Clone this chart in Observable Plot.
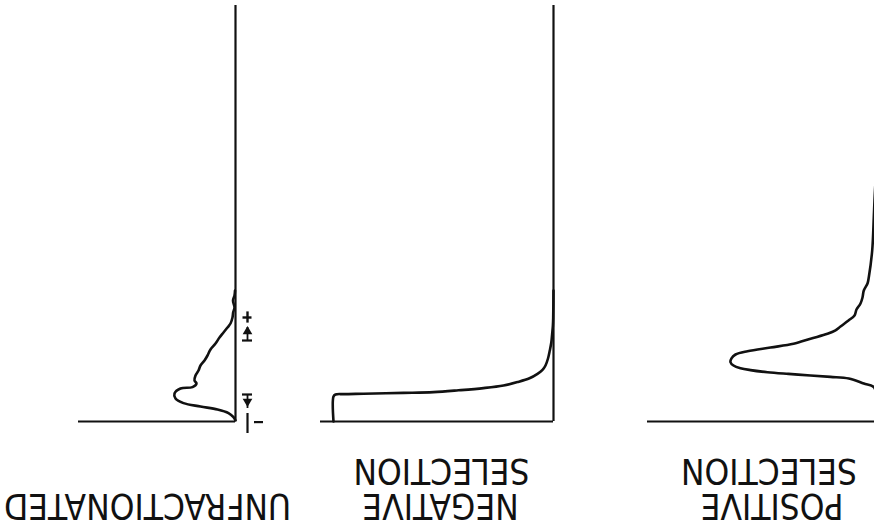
<!DOCTYPE html>
<html><head><meta charset="utf-8">
<script src="https://cdn.jsdelivr.net/npm/d3@7"></script>
<script src="https://cdn.jsdelivr.net/npm/@observablehq/plot@0.6"></script>
<style>
html,body{margin:0;padding:0;background:#fff;}
#chart{position:relative;width:874px;height:529px;overflow:hidden;background:#fff;}
#chart svg{position:absolute;left:0;top:0;max-width:none;background:transparent;overflow:visible;}
</style></head><body><div id="chart"></div>
<script>
// Panel titles (drawn upside down, as in the reference)
const unfLabel = ["UNFRACTIONATED"];
const negLabel = ["SELECTION", "NEGATIVE"];
const posLabel = ["SELECTION", "POSITIVE"];

// Unfractionated: channel (fluorescence) vs cell count
const unfChannel = [0.5, 2.2, 4.2, 6, 7.5, 9.2, 11.5, 14, 16.5, 17.2, 19, 20.5, 23, 25.5, 28, 30.5, 33, 36, 39, 42, 44.5, 47, 49, 52, 54.6, 57, 60.5, 63, 65.5];
const unfCount   = [0, 2, 7, 18, 35, 52, 60, 61, 55, 43, 39, 41, 40, 37, 35, 31, 28, 25, 20, 16, 12, 8, 5, 3, 2.3, 1, 2.5, 1, 0.5];

// Negative selection
const negChannel = [0, 12.5, 13.5, 13.7, 13.9, 14.3, 14.7, 15.6, 16.7, 18.0, 19.7, 21.6, 23.8, 25.8, 28, 31.5, 35.5, 39.5, 44, 48, 52, 65.5];
const negCount   = [220, 220, 218, 210, 190, 150, 120, 95, 70, 50, 36, 24, 16, 11, 8, 5.5, 3.7, 2.2, 1.3, 0.6, 0.3, 0];

// Positive selection
const posChannel = [0, 5, 11, 17.2, 19, 21.5, 22.3, 23, 23.8, 24.65, 25.7, 26.65, 28, 29.65, 31.6, 33.5, 35.15, 37, 38.85, 41.4, 43.85, 45.6, 47.5, 50.5, 53, 56, 59, 62, 65.5, 69, 72.15, 85.5, 102, 110.5, 130, 160];
const posCount   = [0, 1, 3, 6.7, 16.7, 31.7, 50, 70, 92, 113, 130, 140, 147, 150, 149, 145, 133, 110, 87, 70, 53, 45, 40, 32, 26, 24, 20, 18, 16.7, 13, 11.7, 8.3, 6.7, 6, 4, 2];

const INK = "#111";
const FONT = "'Liberation Sans Narrow', 'Arial Narrow', 'DejaVu Sans Condensed', sans-serif";

function panel({count, channel, labels, left, right, width, labelDx, extra = []}) {
  const data = count.map((c, i) => ({count: c, channel: channel[i]}));
  const dys = labels.length === 1 ? [84] : [48.5, 84];
  return Plot.plot({
    width, height: 529,
    marginLeft: left, marginRight: width - right, marginTop: 5, marginBottom: 108,
    x: {domain: [0, right - left], reverse: true, axis: null},
    y: {domain: [0, 208], axis: null},
    style: {background: "transparent"},
    marks: [
      Plot.ruleY([0], {stroke: INK, strokeWidth: 2.2}),
      Plot.ruleX([0], {stroke: INK, strokeWidth: 2.2}),
      Plot.line(data, {x: "count", y: "channel", stroke: INK, strokeWidth: 2.6, curve: "catmull-rom"}),
      ...extra,
      ...labels.map((t, i) => Plot.text([t], {
        text: d => d, frameAnchor: "bottom", dx: labelDx[i], dy: dys[i],
        rotate: 180, fontSize: 35, fontFamily: FONT, fill: INK, lineAnchor: "middle", textAnchor: "middle"
      }))
    ]
  });
}

// gate markers beside the unfractionated histogram
const gateMarks = [
  Plot.ruleY([52], {x1: -7.5, x2: -16.5, stroke: INK, strokeWidth: 2.4}),
  Plot.ruleX([-12], {y1: 49.2, y2: 54.8, stroke: INK, strokeWidth: 2.4}),
  Plot.ruleX([-12], {y1: 40.5, y2: 47, stroke: INK, strokeWidth: 1.8}),
  Plot.ruleY([40.5], {x1: -7, x2: -17, stroke: INK, strokeWidth: 2.2}),
  Plot.dot([0], {x: -12, y: 45, symbol: "triangle", r: 3.6, fill: INK}),
  Plot.ruleY([13.5], {x1: -7, x2: -17, stroke: INK, strokeWidth: 2.2}),
  Plot.ruleX([-12], {y1: 6.5, y2: 13.5, stroke: INK, strokeWidth: 1.8}),
  Plot.dot([0], {x: -12, y: 10, symbol: "triangle", rotate: 180, r: 3.6, fill: INK}),
  Plot.ruleX([-12], {y1: 4, y2: -6, stroke: INK, strokeWidth: 2.2}),
  Plot.ruleY([-0.3], {x1: -19, x2: -28, stroke: INK, strokeWidth: 2.2})
];

const root = document.getElementById("chart");
root.append(panel({count: unfCount, channel: unfChannel, labels: unfLabel, left: 78, right: 235, width: 874, labelDx: [-9.5], extra: gateMarks}));
root.append(panel({count: negCount, channel: negChannel, labels: negLabel, left: 320, right: 553, width: 874, labelDx: [4.5, 3.5]}));
root.append(panel({count: posCount, channel: posChannel, labels: posLabel, left: 647, right: 880, width: 880, labelDx: [5, 8]}));
</script>
</body></html>
